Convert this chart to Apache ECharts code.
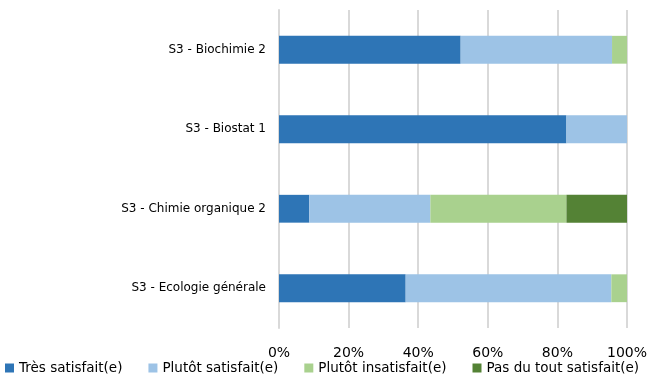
<!DOCTYPE html>
<html>
<head>
<meta charset="utf-8">
<script src="https://cdn.jsdelivr.net/npm/echarts@6/dist/echarts.min.js"></script>
<style>
  html, body { margin: 0; padding: 0; background: #fff; }
  #chart { width: 655px; height: 378px; }
</style>
</head>
<body>
<div id="chart"></div>
<script>
var chart = echarts.init(document.getElementById("chart"));

// matières, de haut en bas
var categories = ['S3 - Biochimie 2', 'S3 - Biostat 1', 'S3 - Chimie organique 2', 'S3 - Ecologie générale'];
var seriesNames = ['Très satisfait(e)', 'Plutôt satisfait(e)', 'Plutôt insatisfait(e)', 'Pas du tout satisfait(e)'];
var tresSatisfait = [52.2, 82.6, 8.7, 36.4];
var plutotSatisfait = [43.5, 17.4, 34.8, 59.1];
var plutotInsatisfait = [4.3, 0, 39.1, 4.5];
var pasDuTout = [0, 0, 17.4, 0];
var colors = ['#2E75B6', '#9DC3E6', '#A9D18E', '#548235'];

var font = 'DejaVu Sans';

function makeSerie(name, data) {
    return {
        name: name,
        type: 'bar',
        stack: 'total',
        barWidth: '35%',
        data: data,
        silent: true
    };
}

var option = {
    animation: false,
    color: colors,
    grid: {
        left: 279,
        right: 28,
        top: 10,
        bottom: 50,
        containLabel: false
    },
    legend: {
        bottom: 3,
        left: 5,
        padding: 0,
        width: 650,
        itemWidth: 9,
        itemHeight: 9,
        itemGap: 26,
        icon: 'rect',
        textStyle: { fontFamily: font, fontSize: 13.5, color: '#000' },
        data: seriesNames
    },
    xAxis: {
        type: 'value',
        min: 0,
        max: 100,
        interval: 20,
        axisLabel: {
            formatter: '{value}%',
            fontFamily: font,
            fontSize: 14,
            color: '#000',
            margin: 18
        },
        axisLine: { show: false },
        axisTick: { show: false },
        splitLine: { lineStyle: { color: '#d9d9d9', width: 2 } }
    },
    yAxis: {
        type: 'category',
        inverse: true,
        data: categories,
        axisLabel: { fontFamily: font, fontSize: 12, color: '#000', margin: 13 },
        axisLine: { lineStyle: { color: '#d9d9d9', width: 2 } },
        axisTick: { show: false }
    },
    series: [
        makeSerie(seriesNames[0], tresSatisfait),
        makeSerie(seriesNames[1], plutotSatisfait),
        makeSerie(seriesNames[2], plutotInsatisfait),
        makeSerie(seriesNames[3], pasDuTout)
    ]
};

chart.setOption(option);
</script>
</body>
</html>
